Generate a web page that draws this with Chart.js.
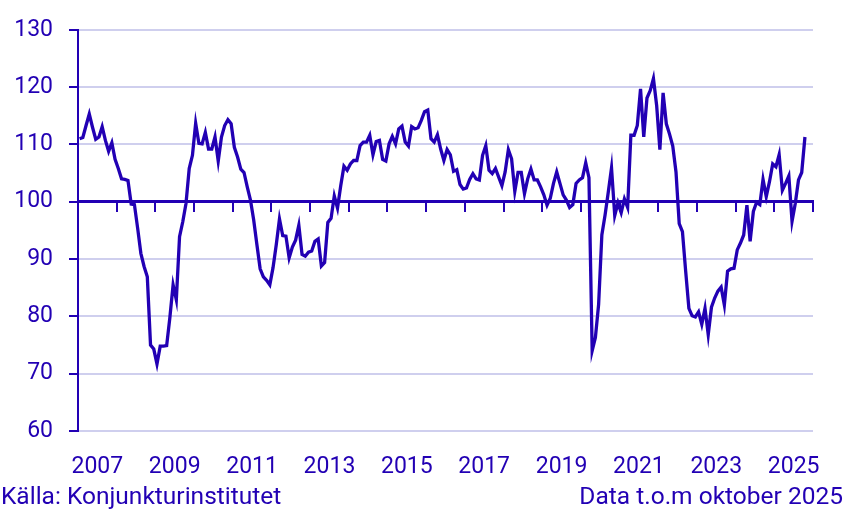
<!DOCTYPE html>
<html lang="sv">
<head>
<meta charset="utf-8">
<title>Barometerindikatorn</title>
<script src="https://cdn.jsdelivr.net/npm/chart.js@4.4.1/dist/chart.umd.min.js"></script>
<style>
  html, body { margin: 0; padding: 0; background: #fff; }
  #wrap { position: relative; width: 851px; height: 515px; font-family: Roboto, sans-serif; color: #2200b4; }
  #chartBox { position: absolute; left: 0; top: 0; width: 851px; height: 485px; }
  .note { position: absolute; top: 484px; font-size: 24.5px; line-height: 24.5px; white-space: nowrap; }
  #source { left: 1px; }
  #dataInfo { right: 8px; }
</style>
</head>
<body>
<div id="wrap">
  <div id="chartBox"><canvas id="myChart"></canvas></div>
  <div class="note" id="source">Källa: Konjunkturinstitutet</div>
  <div class="note" id="dataInfo">Data t.o.m oktober 2025</div>
</div>
<script>
// månadsvärden, jan 2007 - okt 2025
const startYear = 2007;
const endYear = 2026;
const yMin = 60;
const yMax = 130;
const yStep = 10;

const v2007 = [111, 111.2, 113.3, 115.3, 113, 110.9, 111.3, 113.1, 110.7, 108.8, 110.3, 107.4];
const v2008 = [105.8, 104, 103.9, 103.7, 99.6, 99.5, 95.4, 91, 88.7, 86.9, 75, 74.3];
const v2009 = [71.7, 74.8, 74.8, 74.9, 79.8, 85.5, 82.9, 93.9, 96.5, 99.7, 105.8, 108.1];
const v2010 = [113.7, 110.2, 110.1, 112.1, 109.2, 109.2, 111.3, 107.1, 111.3, 113.3, 114.3, 113.6];
const v2011 = [109.5, 107.8, 105.7, 105.1, 102.6, 100.3, 96.8, 92.5, 88.3, 86.9, 86.3, 85.5];
const v2012 = [88.5, 92.5, 97, 94.1, 94, 90.2, 92.1, 93.3, 95.9, 90.8, 90.5, 91.2];
const v2013 = [91.4, 93.1, 93.5, 88.8, 89.4, 96.4, 97.1, 101, 98.9, 102.8, 106.2, 105.5];
const v2014 = [106.6, 107.2, 107.2, 109.8, 110.4, 110.4, 111.6, 108.2, 110.5, 110.7, 107.4, 107.1];
const v2015 = [110.1, 111.4, 110.1, 112.7, 113.2, 110.4, 109.7, 113.1, 112.7, 112.9, 114.2, 115.7];
const v2016 = [116, 111, 110.4, 111.7, 109.2, 107.2, 109.1, 108.2, 105.3, 105.6, 103, 102.2];
const v2017 = [102.4, 103.9, 104.9, 104, 103.8, 108.1, 109.8, 105.5, 104.9, 105.8, 104.3, 102.8];
const v2018 = [105.2, 109.1, 107.5, 101.8, 105.1, 105.1, 101.4, 104, 105.7, 103.8, 103.8, 102.6];
const v2019 = [101.2, 99.4, 100.6, 103.2, 105.2, 103.2, 101.2, 100.3, 99, 99.5, 103.2, 103.8];
const v2020 = [104.2, 106.8, 104.2, 74, 76.3, 82.1, 94.2, 97.7, 101.7, 105.9, 97.6, 99.8];
const v2021 = [98.1, 100.5, 99, 111.6, 111.6, 113.3, 119.7, 111.3, 118.1, 119.4, 121.5, 116.8];
const v2022 = [109.1, 119, 113.6, 111.8, 109.7, 105.2, 96.2, 94.8, 87.9, 81.4, 80.1, 79.9];
const v2023 = [80.8, 78.6, 81.4, 76.8, 81.6, 83.2, 84.4, 85.1, 82, 87.9, 88.3, 88.4];
const v2024 = [91.6, 92.8, 94.2, 99.4, 93.1, 98.3, 99.9, 99.5, 103.9, 100.9, 103.5, 106.6];
const v2025 = [106.1, 108.2, 102, 103.2, 104.5, 96.6, 99.7, 103.8, 105.1, 111.3];

const values = [].concat(v2007, v2008, v2009, v2010, v2011, v2012, v2013, v2014, v2015,
    v2016, v2017, v2018, v2019, v2020, v2021, v2022, v2023, v2024, v2025);

const INK = '#2200b4';
const GRID = '#cfcfee';

// x = månader sedan jan 2007, punkten mitt i månaden
const points = values.map((v, i) => ({ x: i + 0.5, y: v }));
const xMax = (endYear - startYear) * 12;

Chart.defaults.font.family = 'Roboto';
Chart.defaults.font.size = 23;
Chart.defaults.color = INK;

function yearTicks(step){
    return (scale) => {
        const t = [];
        for(let m = 0; m <= xMax; m += step){
            t.push({ value: m });
        }
        scale.ticks = t;
    };
}

const config = {
    type: 'line',
    data: {
        datasets: [{
            data: points,
            borderColor: INK,
            borderWidth: 3.3,
            pointRadius: 0,
            tension: 0,
            fill: false
        }]
    },
    options: {
        responsive: true,
        maintainAspectRatio: false,
        animation: false,
        events: [],
        layout: { padding: { top: 27, right: 38, left: 0, bottom: 0 } },
        plugins: { legend: { display: false }, tooltip: { enabled: false } },
        scales: {
            x: {
                type: 'linear',
                min: 0,
                max: xMax,
                position: 'bottom',
                grid: { display: false, drawTicks: false },
                border: { display: false },
                afterBuildTicks: yearTicks(24),
                afterFit: (s) => { s.height = 54; },
                ticks: {
                    autoSkip: false,
                    maxRotation: 0,
                    padding: 22,
                    labelOffset: 19.35,
                    callback: (v) => String(startYear + v / 12)
                }
            },
            x2: {
                type: 'linear',
                axis: 'x',
                min: 0,
                max: xMax,
                position: { y: 100 },
                grid: { drawOnChartArea: false, drawTicks: true, tickLength: 9, color: INK, lineWidth: 2 },
                border: { color: INK, width: 3 },
                afterBuildTicks: yearTicks(12),
                ticks: { display: false }
            },
            y: {
                min: yMin,
                max: yMax,
                afterFit: (s) => { s.width = 78; },
                ticks: { stepSize: yStep, padding: 16 },
                grid: { color: GRID, lineWidth: 2, tickColor: INK, tickLength: 9 },
                border: { color: INK, width: 2 }
            }
        }
    }
};

const myChart = new Chart(document.getElementById('myChart'), config);
</script>
</body>
</html>
